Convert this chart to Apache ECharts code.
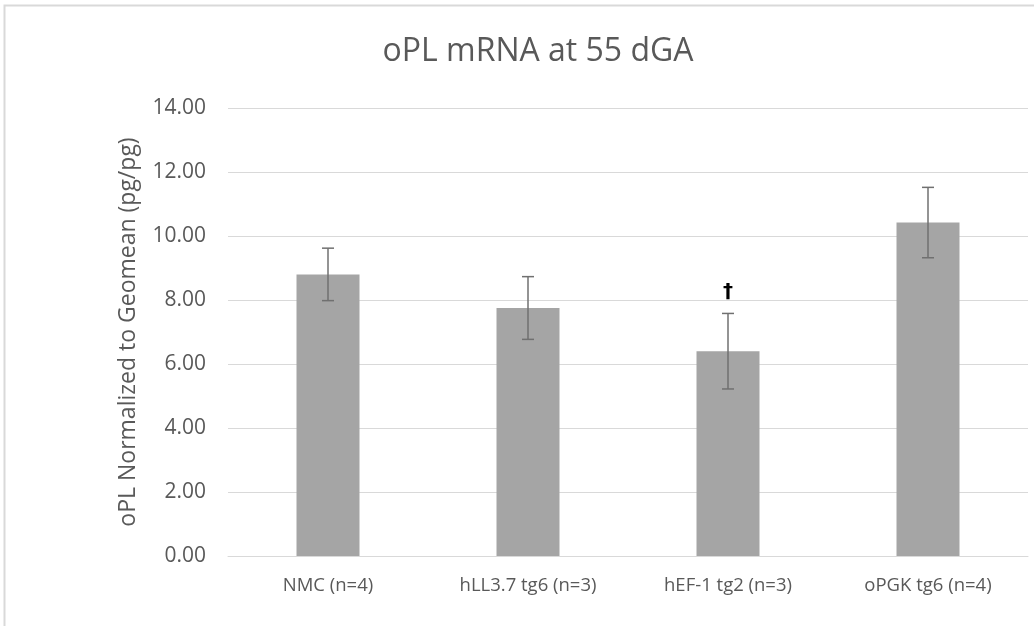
<!DOCTYPE html>
<html>
<head>
<meta charset="utf-8">
<script src="https://cdn.jsdelivr.net/npm/echarts@6/dist/echarts.min.js"></script>
<style>
html,body{margin:0;padding:0;background:#fff;}
#chart{width:1034px;height:626px;}
</style>
</head>
<body>
<div id="chart"></div>
<script>
const titleText = "oPL mRNA at 55 dGA";
const yAxisName = "oPL Normalized to Geomean (pg/pg)";
const categories = ["NMC (n=4)", "hLL3.7 tg6 (n=3)", "hEF-1 tg2 (n=3)", "oPGK tg6 (n=4)"];
const means = [8.80, 7.75, 6.40, 10.42];
const errors = [0.82, 0.98, 1.18, 1.10];
const annotations = ["", "", "\u2020", ""];

const FONT = "Open Sans";
const chart = echarts.init(document.getElementById('chart'), null, {renderer: 'canvas'});

const errData = means.map((m, i) => [i, m, errors[i], annotations[i]]);

chart.setOption({
  animation: false,
  backgroundColor: '#ffffff',
  textStyle: {fontFamily: FONT},
  title: {
    text: titleText,
    left: 533,
    top: 31,
    textAlign: 'center',
    textStyle: {fontFamily: FONT, fontSize: 32, fontWeight: 'normal', color: '#595959'}
  },
  graphic: [{
    type: 'rect',
    shape: {x: 4.5, y: 5.5, width: 1200, height: 800},
    style: {fill: 'none', stroke: '#d9d9d9', lineWidth: 2},
    silent: true
  }],
  grid: {left: 228, right: 6, top: 108, bottom: 70, containLabel: false},
  xAxis: {
    type: 'category',
    data: categories,
    axisLine: {lineStyle: {color: '#d9d9d9', width: 1}},
    axisTick: {show: false},
    axisLabel: {color: '#595959', fontSize: 18.5, margin: 20, fontFamily: FONT}
  },
  yAxis: {
    type: 'value',
    min: 0, max: 14, interval: 2,
    name: yAxisName,
    nameLocation: 'middle',
    nameGap: 88,
    nameTextStyle: {color: '#595959', fontSize: 23, fontFamily: FONT},
    axisLine: {show: false},
    axisTick: {show: false},
    axisLabel: {color: '#595959', fontSize: 21, margin: 22, fontFamily: FONT,
      formatter: v => v.toFixed(2)},
    splitLine: {lineStyle: {color: '#d9d9d9', width: 1}}
  },
  series: [{
    type: 'bar',
    data: means,
    barWidth: 63,
    itemStyle: {color: '#a5a5a5'},
    z: 2
  }, {
    type: 'custom',
    data: errData,
    z: 5,
    renderItem: function(params, api) {
      const i = api.value(0), m = api.value(1), e = api.value(2);
      const top = api.coord([i, m + e]);
      const bot = api.coord([i, m - e]);
      const x = top[0];
      const cap = 6;
      const style = {stroke: '#707070', lineWidth: 1.5};
      const children = [
        {type: 'line', shape: {x1: x, y1: top[1], x2: x, y2: bot[1]}, style},
        {type: 'line', shape: {x1: x - cap, y1: top[1], x2: x + cap, y2: top[1]}, style},
        {type: 'line', shape: {x1: x - cap, y1: bot[1], x2: x + cap, y2: bot[1]}, style}
      ];
      const ann = errData[params.dataIndex][3];
      if (ann) {
        children.push({type: 'text', style: {text: ann, x: x, y: top[1] - 22,
          textAlign: 'center', textVerticalAlign: 'middle',
          font: 'bold 20px "DejaVu Sans"', fill: '#000000'}});
      }
      return {type: 'group', children};
    }
  }]
});
</script>
</body>
</html>
